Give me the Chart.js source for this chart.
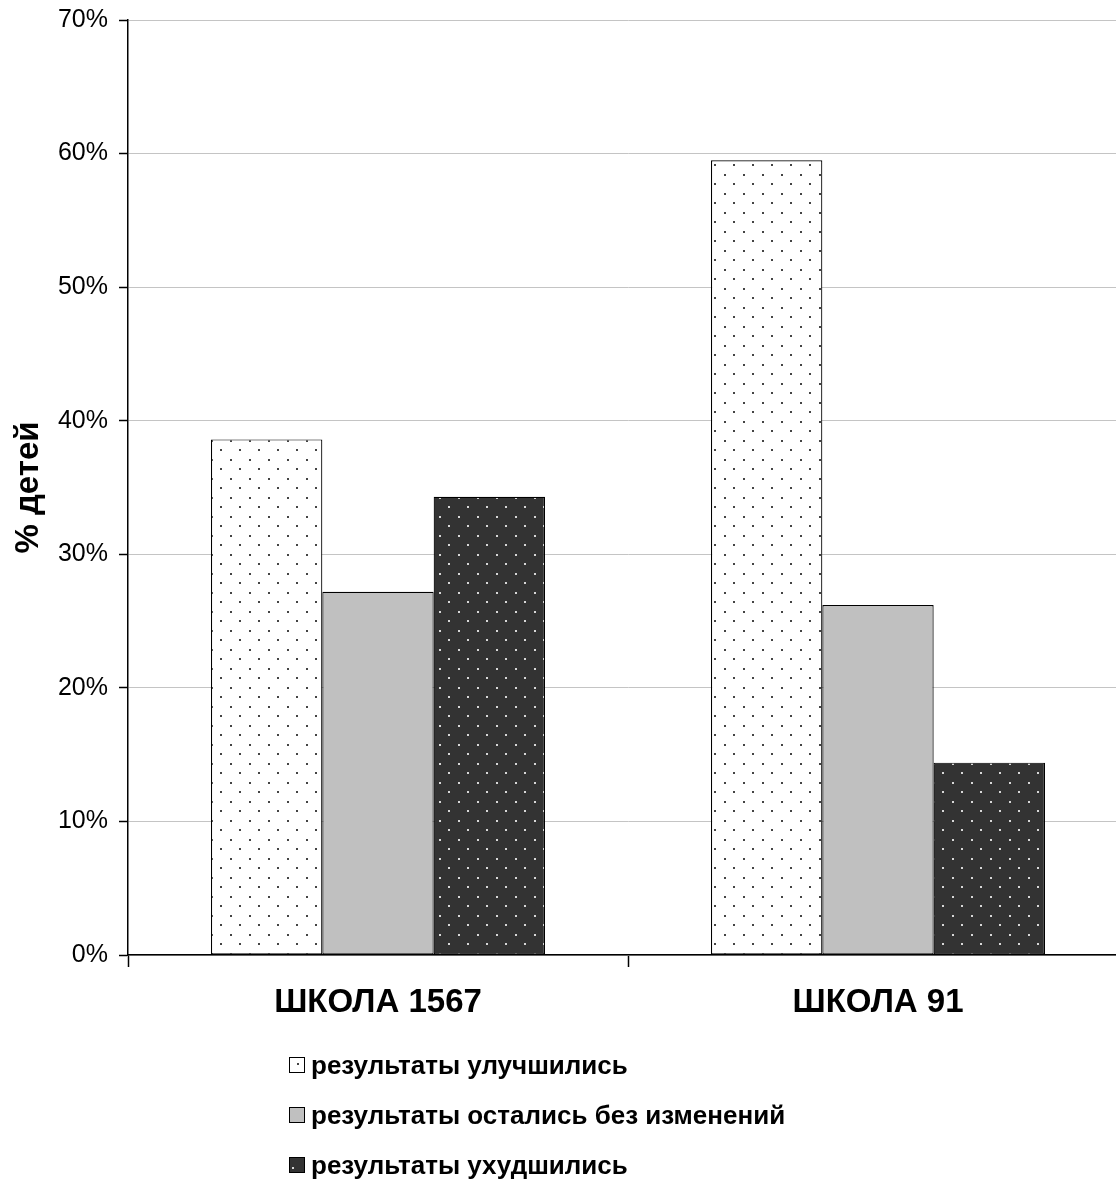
<!DOCTYPE html>
<html>
<head>
<meta charset="utf-8">
<script src="https://cdn.jsdelivr.net/npm/chart.js@4.4.1/dist/chart.umd.min.js"></script>
<style>
  body { margin: 0; overflow: hidden; background: #fff; }
  #wrap { position: relative; width: 1128px; height: 1180px; }
  #legend { position: absolute; left: 289px; top: 1047px; font-family: "Liberation Sans", Arial, sans-serif; font-weight: bold; font-size: 26px; color: #000; }
  #legend div { height: 50px; line-height: 36px; white-space: nowrap; }
  #legend span.box { display: inline-block; width: 14px; height: 14px; border: 1px solid #000; margin-right: 6px; vertical-align: 1px; position: relative; }
  #legend span.dot { position: absolute; width: 2px; height: 2px; }
</style>
</head>
<body>
<div id="wrap">
  <canvas id="myChart" width="1128" height="1180"></canvas>
  <div id="legend"></div>
</div>
<script>
// Данные диаграммы
const schools = ['ШКОЛА 1567', 'ШКОЛА 91'];
const seriesNames = ['результаты улучшились', 'результаты остались без изменений', 'результаты ухудшились'];
const improved = [38.6, 59.5];
const unchanged = [27.2, 26.2];
const worsened = [34.3, 14.4];
const yTicks = [0, 10, 20, 30, 40, 50, 60, 70];

// Точечная штриховка для столбцов
function dotPattern(bg, dot) {
    const c = document.createElement('canvas');
    c.width = 19;
    c.height = 19;
    const p = c.getContext('2d');
    p.fillStyle = bg;
    p.fillRect(0, 0, 19, 19);
    p.fillStyle = dot;
    p.fillRect(2, 3, 2, 2);
    p.fillRect(11, 12, 2, 2);
    return p.createPattern(c, 'repeat');
}

const ctx = document.getElementById('myChart').getContext('2d');
const lightDots = dotPattern('#ffffff', '#444444');
const darkDots = dotPattern('#333333', '#d8d8d8');
const fills = [lightDots, '#c0c0c0', darkDots];
const swatchCss = ['#ffffff', '#c0c0c0', '#333333'];
const swatchDot = ['#444444', null, '#d8d8d8'];

const myChart = new Chart(ctx, {
    type: 'bar',
    data: {
        labels: schools,
        datasets: [improved, unchanged, worsened].map((values, i) => ({
            label: seriesNames[i],
            data: values,
            backgroundColor: fills[i],
            borderColor: '#000000',
            borderWidth: 1.2,
            borderSkipped: false,
            categoryPercentage: 0.668,
            barPercentage: 1.0
        }))
    },
    options: {
        responsive: false,
        animation: false,
        layout: {
            padding: { top: 20, right: 0, bottom: 0, left: 0 }
        },
        plugins: {
            legend: { display: false },
            tooltip: { enabled: false }
        },
        scales: {
            x: {
                afterFit: (scale) => { scale.height = 225; },
                grid: {
                    offset: true,
                    drawOnChartArea: false,
                    drawTicks: true,
                    tickLength: 12,
                    tickColor: '#000000',
                    tickWidth: 1.5
                },
                border: { color: '#000000', width: 1.5 },
                ticks: {
                    color: '#000000',
                    padding: 16,
                    font: { family: '"Liberation Sans", Arial, sans-serif', size: 33, weight: 'bold' }
                }
            },
            y: {
                min: 0,
                max: 70,
                afterFit: (scale) => {
                    scale.width = 128;
                    scale.paddingTop = 0;
                    scale.paddingBottom = 0;
                },
                afterBuildTicks: (scale) => { scale.ticks = yTicks.map(v => ({ value: v })); },
                grid: {
                    color: '#c4c4c4',
                    lineWidth: 1,
                    tickColor: '#000000',
                    tickLength: 9,
                    tickWidth: 1.5
                },
                border: { color: '#000000', width: 1.5 },
                ticks: {
                    color: '#000000',
                    padding: 11,
                    font: { family: '"Liberation Sans", Arial, sans-serif', size: 25 },
                    callback: (value) => value + '%'
                },
                title: {
                    display: true,
                    text: '% детей',
                    color: '#000000',
                    padding: { top: 9, bottom: 0 },
                    font: { family: '"Liberation Sans", Arial, sans-serif', size: 33, weight: 'bold' }
                }
            }
        }
    }
});

// Легенда списком под диаграммой
const legend = document.getElementById('legend');
seriesNames.forEach((name, i) => {
    const row = document.createElement('div');
    const box = document.createElement('span');
    box.className = 'box';
    box.style.background = swatchCss[i];
    if (swatchDot[i]) {
        const dot = document.createElement('span');
        dot.className = 'dot';
        dot.style.background = swatchDot[i];
        dot.style.left = i === 0 ? '7px' : '2px';
        dot.style.top = i === 0 ? '5px' : '9px';
        box.appendChild(dot);
    }
    row.appendChild(box);
    row.appendChild(document.createTextNode(name));
    legend.appendChild(row);
});
</script>
</body>
</html>
